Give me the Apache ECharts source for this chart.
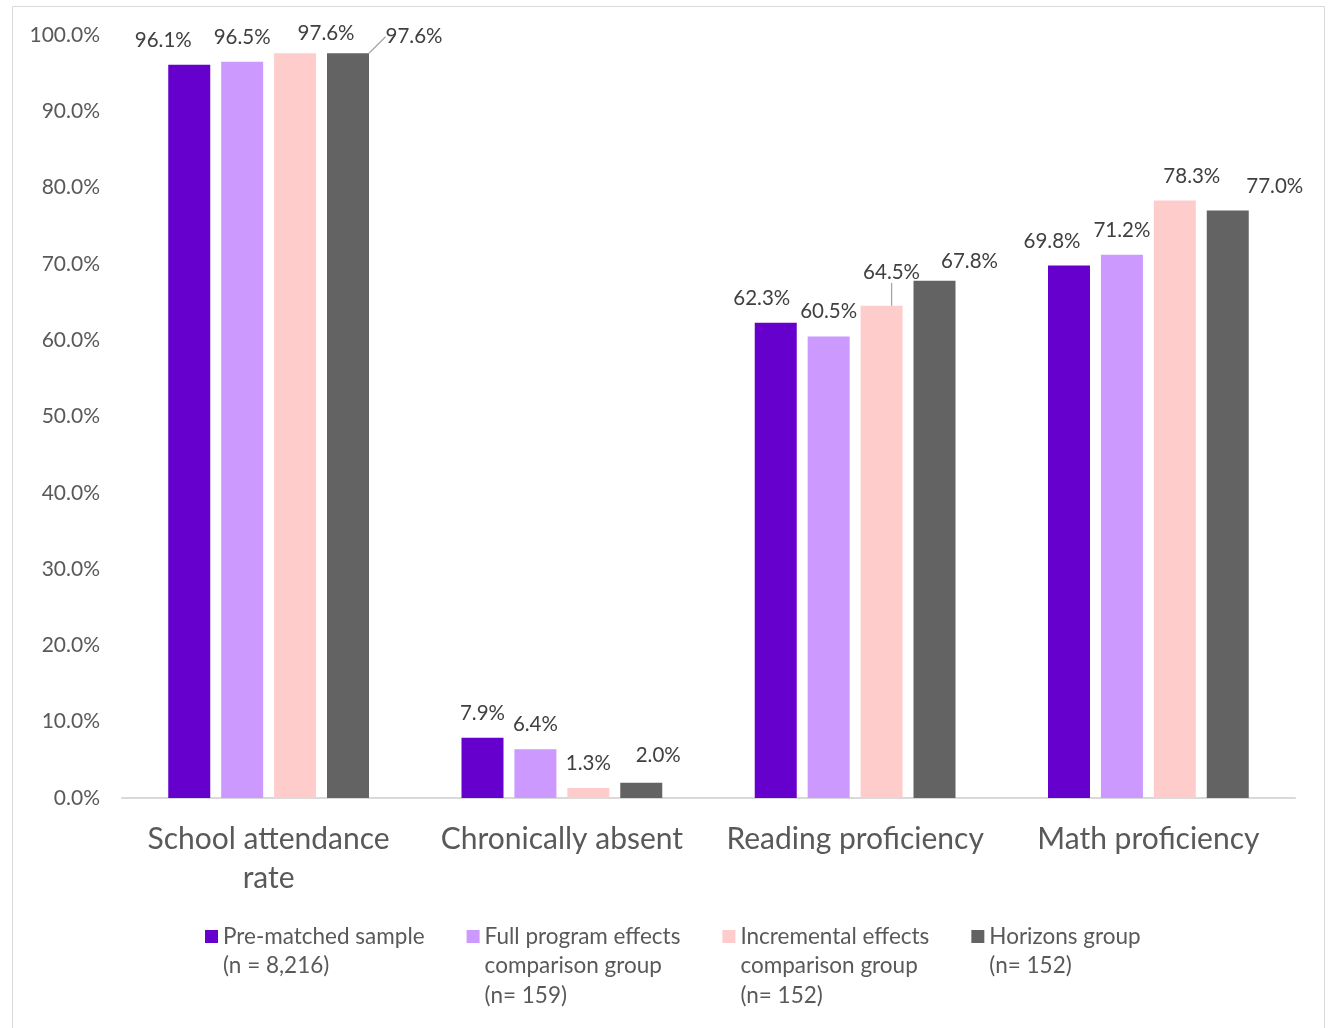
<!DOCTYPE html>
<html><head><meta charset="utf-8">
<script src="https://cdn.jsdelivr.net/npm/echarts@6/dist/echarts.min.js"></script>
<style>html,body{margin:0;padding:0;background:#fff}#c{width:1329px;height:1028px}</style>
</head><body><div id="c"></div>
<script>
const categories = ['School attendance\nrate', 'Chronically absent', 'Reading proficiency', 'Math proficiency'];
const seriesNames = ['Pre-matched sample\n(n = 8,216)', 'Full program effects\ncomparison group\n(n= 159)', 'Incremental effects\ncomparison group\n(n= 152)', 'Horizons group\n(n= 152)'];
const preMatched = [96.1, 7.9, 62.3, 69.8];
const fullProgram = [96.5, 6.4, 60.5, 71.2];
const incremental = [97.6, 1.3, 64.5, 78.3];
const horizons = [97.6, 2.0, 67.8, 77.0];
const yTicks = { min: 0, max: 100, interval: 10 };

const colors = ['#6600CC', '#CC99FF', '#FFCCCC', '#636363'];
// manual label nudges (pixels), like the moved labels in the original
const labelShift = [
  [[-26,0],[0,0],[-14,0],[-17,0]],
  [[0,0],[0,0],[0,0],[0,0]],
  [[31,5],[0,0],[10,-9],[17,0]],
  [[66,8],[17,-3],[35,5],[47,0]]
];
const leader = { '3-0': true, '2-2': true };
const FONT = 'Lato';
const allData = [preMatched, fullProgram, incremental, horizons];
const chart = echarts.init(document.getElementById('c'));
const series = allData.map((arr, si) => ({
  name: seriesNames[si],
  type: 'bar',
  barWidth: 42,
  barGap: '26%',
  itemStyle: { color: colors[si] },
  data: arr.map((v, di) => ({
    value: v,
    labelLine: { show: !!leader[si + '-' + di], lineStyle: { color: '#a6a6a6', width: 1.3 } }
  })),
  label: {
    show: true, position: 'top', distance: 14,
    formatter: p => p.value.toFixed(1) + '%',
    fontFamily: FONT, fontSize: 20.5, color: '#404040'
  },
  labelLayout: p => ({ dx: labelShift[p.seriesIndex][p.dataIndex][0], dy: labelShift[p.seriesIndex][p.dataIndex][1] })
}));
const maxLines = Math.max(...seriesNames.map(n => n.split('\n').length));
const LH = 29.5;
chart.setOption({
  animation: false,
  textStyle: { fontFamily: FONT },
  grid: { left: 122, right: 34, top: 35, bottom: 230 },
  graphic: [{ type: 'rect', shape: { x: 12.5, y: 6.5, width: 1312, height: 1040 }, style: { fill: 'none', stroke: '#d9d9d9', lineWidth: 1 }, silent: true, z: -1 }],
  legend: {
    left: 205, top: 930 + 6.5 - (2 * maxLines - 1) * LH / 2, padding: 0, orient: 'horizontal', itemGap: 42,
    itemWidth: 13, itemHeight: 13, icon: 'rect',
    textStyle: { fontFamily: FONT, fontSize: 22.5, color: '#595959', lineHeight: LH },
    formatter: name => '\n'.repeat(name.split('\n').length - 1) + name,
    data: seriesNames
  },
  xAxis: {
    type: 'category', data: categories,
    axisLine: { lineStyle: { color: '#d9d9d9', width: 2 } },
    axisTick: { show: false },
    axisLabel: { interval: 0, fontFamily: FONT, fontSize: 30, color: '#595959', lineHeight: 39, margin: 22 }
  },
  yAxis: {
    type: 'value', min: yTicks.min, max: yTicks.max, interval: yTicks.interval,
    splitLine: { show: false }, axisLine: { show: false }, axisTick: { show: false },
    axisLabel: { fontFamily: FONT, fontSize: 21, color: '#595959', margin: 22, formatter: v => v.toFixed(1) + '%' }
  },
  series
});
</script></body></html>
